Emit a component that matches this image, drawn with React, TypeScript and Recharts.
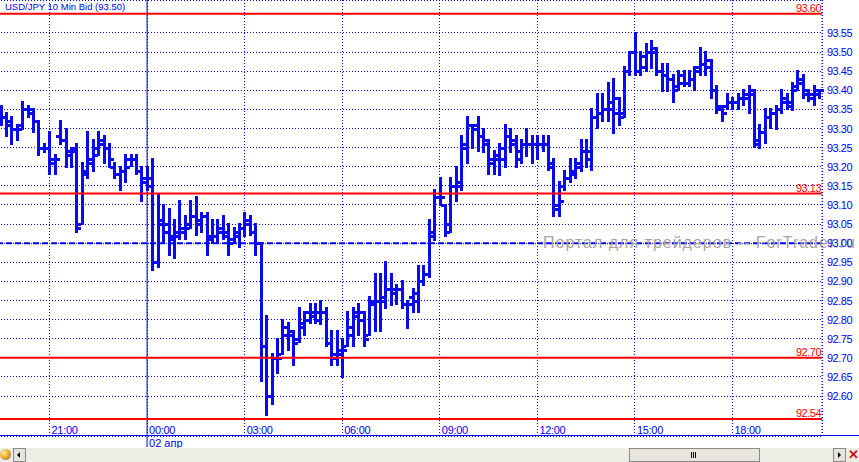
import React from 'react';
import { ComposedChart, Bar, XAxis, YAxis, CartesianGrid, ReferenceLine } from 'recharts';

const opens = [
  93.33, 93.33, 93.31, 93.30, 93.31, 93.35, 93.34, 93.32, 93.25, 93.25,
  93.21, 93.28, 93.27, 93.24, 93.25, 93.05, 93.19, 93.22, 93.25, 93.26,
  93.25, 93.20, 93.18, 93.19, 93.22, 93.22, 93.19, 93.17, 93.17, 92.95,
  93.06, 93.03, 93.01, 93.03, 93.03, 93.05, 93.07, 93.06, 93.07, 93.02,
  93.02, 93.03, 93.02, 93.01, 93.02, 93.04, 93.05, 93.03, 93.00, 92.73,
  92.60, 92.70, 92.71, 92.76, 92.76, 92.75, 92.78, 92.82, 92.82, 92.80,
  92.82, 92.74, 92.71, 92.71, 92.73, 92.78, 92.82, 92.80, 92.76, 92.85,
  92.85, 92.86, 92.88, 92.87, 92.88, 92.84, 92.86, 92.85, 92.90, 92.92,
  93.03, 93.12, 93.10, 93.05, 93.15, 93.16, 93.25, 93.31, 93.31, 93.28,
  93.26, 93.22, 93.22, 93.25, 93.28, 93.26, 93.24, 93.26, 93.26, 93.26,
  93.26, 93.26, 93.20, 93.09, 93.15, 93.17, 93.19, 93.21, 93.24, 93.22,
  93.33, 93.34, 93.35, 93.37, 93.34, 93.34, 93.45, 93.50, 93.45, 93.49,
  93.50, 93.50, 93.45, 93.44, 93.43, 93.41, 93.44, 93.42, 93.43, 93.46,
  93.47, 93.46, 93.40, 93.35, 93.36, 93.37, 93.37, 93.38, 93.39, 93.39,
  93.27, 93.29, 93.33, 93.34, 93.35, 93.37, 93.37, 93.41, 93.43, 93.39,
  93.38, 93.39,
];
const highs = [
  93.36, 93.34, 93.33, 93.31, 93.37, 93.36, 93.35, 93.32, 93.26, 93.29,
  93.23, 93.32, 93.30, 93.25, 93.26, 93.21, 93.29, 93.27, 93.29, 93.28,
  93.26, 93.21, 93.20, 93.23, 93.23, 93.23, 93.20, 93.20, 93.22, 93.13,
  93.10, 93.09, 93.06, 93.11, 93.07, 93.11, 93.12, 93.08, 93.08, 93.06,
  93.06, 93.07, 93.05, 93.04, 93.05, 93.08, 93.07, 93.05, 93.00, 92.81,
  92.71, 92.75, 92.80, 92.79, 92.77, 92.83, 92.82, 92.84, 92.84, 92.85,
  92.83, 92.77, 92.77, 92.75, 92.82, 92.83, 92.84, 92.82, 92.86, 92.92,
  92.92, 92.95, 92.92, 92.89, 92.90, 92.85, 92.88, 92.94, 92.94, 93.06,
  93.14, 93.17, 93.10, 93.17, 93.20, 93.28, 93.33, 93.31, 93.33, 93.30,
  93.27, 93.24, 93.26, 93.31, 93.30, 93.28, 93.27, 93.30, 93.28, 93.28,
  93.28, 93.28, 93.22, 93.16, 93.19, 93.22, 93.22, 93.27, 93.27, 93.35,
  93.39, 93.39, 93.42, 93.43, 93.38, 93.46, 93.50, 93.55, 93.50, 93.52,
  93.53, 93.51, 93.47, 93.47, 93.44, 93.45, 93.45, 93.45, 93.46, 93.51,
  93.50, 93.48, 93.41, 93.36, 93.39, 93.38, 93.39, 93.40, 93.41, 93.40,
  93.31, 93.35, 93.35, 93.36, 93.40, 93.39, 93.42, 93.45, 93.44, 93.40,
  93.41, 93.40,
];
const lows = [
  93.31, 93.28, 93.26, 93.27, 93.30, 93.33, 93.29, 93.23, 93.24, 93.18,
  93.18, 93.26, 93.20, 93.20, 93.03, 93.05, 93.17, 93.19, 93.23, 93.21,
  93.20, 93.17, 93.14, 93.16, 93.20, 93.18, 93.11, 93.14, 92.93, 92.94,
  93.00, 92.97, 92.96, 93.01, 93.01, 93.04, 93.02, 93.03, 92.97, 93.00,
  93.00, 93.01, 92.97, 93.00, 92.99, 93.02, 93.02, 92.97, 92.64, 92.55,
  92.58, 92.66, 92.71, 92.72, 92.68, 92.74, 92.76, 92.79, 92.79, 92.79,
  92.73, 92.68, 92.68, 92.65, 92.73, 92.73, 92.76, 92.73, 92.76, 92.77,
  92.77, 92.83, 92.84, 92.84, 92.83, 92.78, 92.82, 92.82, 92.89, 92.91,
  93.01, 93.10, 93.02, 93.03, 93.11, 93.14, 93.21, 93.25, 93.24, 93.24,
  93.18, 93.18, 93.18, 93.20, 93.24, 93.20, 93.21, 93.23, 93.21, 93.22,
  93.24, 93.19, 93.07, 93.07, 93.14, 93.16, 93.17, 93.19, 93.20, 93.19,
  93.30, 93.32, 93.32, 93.29, 93.31, 93.33, 93.44, 93.44, 93.44, 93.45,
  93.46, 93.44, 93.40, 93.40, 93.37, 93.40, 93.41, 93.41, 93.40, 93.44,
  93.44, 93.38, 93.34, 93.32, 93.35, 93.35, 93.35, 93.36, 93.34, 93.25,
  93.25, 93.26, 93.30, 93.30, 93.34, 93.35, 93.35, 93.40, 93.38, 93.37,
  93.36, 93.38,
];
const closes = [
  93.33, 93.32, 93.30, 93.30, 93.35, 93.35, 93.32, 93.25, 93.25, 93.22,
  93.22, 93.27, 93.23, 93.24, 93.04, 93.18, 93.21, 93.23, 93.27, 93.25,
  93.22, 93.18, 93.19, 93.20, 93.22, 93.19, 93.16, 93.15, 92.95, 93.05,
  93.05, 93.02, 93.02, 93.04, 93.04, 93.07, 93.05, 93.07, 93.01, 93.02,
  93.04, 93.03, 93.00, 93.03, 93.04, 93.06, 93.03, 93.00, 92.73, 92.60,
  92.70, 92.70, 92.78, 92.77, 92.74, 92.79, 92.80, 92.81, 92.82, 92.82,
  92.74, 92.70, 92.72, 92.72, 92.76, 92.81, 92.82, 92.75, 92.84, 92.85,
  92.85, 92.88, 92.88, 92.88, 92.84, 92.84, 92.87, 92.90, 92.92, 93.02,
  93.12, 93.12, 93.03, 93.15, 93.15, 93.26, 93.31, 93.30, 93.28, 93.27,
  93.21, 93.23, 93.22, 93.28, 93.27, 93.22, 93.26, 93.26, 93.26, 93.26,
  93.26, 93.21, 93.10, 93.11, 93.17, 93.18, 93.20, 93.24, 93.24, 93.33,
  93.34, 93.35, 93.35, 93.38, 93.33, 93.45, 93.50, 93.45, 93.46, 93.50,
  93.51, 93.45, 93.44, 93.43, 93.40, 93.42, 93.42, 93.43, 93.45, 93.47,
  93.48, 93.40, 93.36, 93.34, 93.37, 93.37, 93.38, 93.38, 93.40, 93.26,
  93.29, 93.33, 93.34, 93.35, 93.38, 93.36, 93.40, 93.42, 93.40, 93.39,
  93.40, 93.40,
];

const START_MINUTE = 19 * 60 + 30;
const BAR_MINUTES = 10;
const pad = (n: number) => (n < 10 ? '0' + n : '' + n);
const times = opens.map((_, i) => {
  const m = START_MINUTE + i * BAR_MINUTES;
  const day = m >= 1440 ? '02' : '01';
  const mm = m % 1440;
  return `${day} ${pad(Math.floor(mm / 60))}:${pad(mm % 60)}`;
});

const tickTimes = ['01 21:00', '02 00:00', '02 03:00', '02 06:00', '02 09:00', '02 12:00', '02 15:00', '02 18:00'];
const tickLabels = ['21:00', '00:00', '03:00', '06:00', '09:00', '12:00', '15:00', '18:00'];
const dayBreak = '02 00:00';
const dayLabel = '02 апр';

const priceTicks = [92.6, 92.65, 92.7, 92.75, 92.8, 92.85, 92.9, 92.95, 93.0, 93.05, 93.1, 93.15, 93.2, 93.25, 93.3, 93.35, 93.4, 93.45, 93.5, 93.55];
const levelLines = [93.6, 93.13, 92.7, 92.54];
const bidLine = 93.0;
const title = 'USD/JPY 10 Min Bid (93.50)';
const watermark = 'Портал для трейдеров -- ForTrader.ru';

const data = times.map((t, i) => ({ t, o: opens[i], h: highs[i], l: lows[i], c: closes[i] }));

const BLUE = '#0000ff';
const BAR = '#0a0af0';
const RED = '#ff0000';
const FONT = '"Liberation Sans", Arial, sans-serif';

const OhlcShape = (props: any) => {
  const { x, y, width, height, payload } = props;
  if (x == null || y == null || !payload) return null;
  const cx = Math.round(x + width / 2);
  const top = Math.min(y, y + height);
  const h = Math.abs(height);
  const range = payload.h - payload.l;
  const yo = range > 0 ? top + ((payload.h - payload.o) / range) * h : top;
  const yc = range > 0 ? top + ((payload.h - payload.c) / range) * h : top;
  return (
    <g>
      <rect x={cx - 1} y={Math.round(top) - 1} width={3} height={Math.max(3, Math.round(h) + 2)} fill={BAR} />
      <rect x={cx - 4} y={Math.round(yo) - 1} width={3} height={3} fill={BAR} />
      <rect x={cx + 2} y={Math.round(yc) - 1} width={3} height={3} fill={BAR} />
    </g>
  );
};

const TimeTick = (props: any) => {
  const { x, y, payload } = props;
  const idx = tickTimes.indexOf(payload.value);
  const label = idx >= 0 ? tickLabels[idx] : '';
  return (
    <g>
      <text x={x + 2} y={y - 2.5} fill={BLUE} fontSize={11} fontFamily={FONT} letterSpacing={-0.3}>
        {label}
      </text>
      {payload.value === dayBreak && (
        <g>
          <line x1={x} x2={x} y1={y} y2={y + 11} stroke="#0000cc" strokeWidth={1} />
          <text x={x + 2} y={y + 11} fill={BLUE} fontSize={11} fontFamily={FONT}>
            {dayLabel}
          </text>
        </g>
      )}
    </g>
  );
};

const PriceTick = (props: any) => {
  const { x, y, payload } = props;
  return (
    <text x={x} y={y + 4} fill={BLUE} fontSize={11} fontFamily={FONT} letterSpacing={-0.5}>
      {Number(payload.value).toFixed(2)}
    </text>
  );
};

const LevelLabel = (props: any) => {
  const vb = props.viewBox || {};
  return (
    <text x={vb.x + vb.width - 1} y={vb.y - 2} textAnchor="end" fill={RED} fontSize={11} fontFamily={FONT} letterSpacing={-0.5}>
      {props.text}
    </text>
  );
};

const WatermarkLabel = (props: any) => {
  const vb = props.viewBox || {};
  return (
    <text x={vb.x + 545} y={vb.y + 5} fill="#aaa3a3" fontSize={16} fontFamily={FONT} letterSpacing={1}>
      {watermark}
    </text>
  );
};

export default function App() {
  return (
    <div style={{ position: 'absolute', left: 0, top: 0, width: 859, height: 462, overflow: 'hidden', background: '#ffffff' }}>
      <div style={{ position: 'absolute', left: -2, top: 0 }}>
        <ComposedChart width={861} height={462} data={data} margin={{ top: 0, right: 0, bottom: 0, left: 0 }}>
          <CartesianGrid stroke={BLUE} strokeDasharray="1 2" shapeRendering="crispEdges" />
          <XAxis
            dataKey="t"
            type="category"
            ticks={tickTimes}
            interval={0}
            tickLine={false}
            axisLine={false}
            tickSize={0}
            tickMargin={0}
            height={26}
            tick={<TimeTick />}
          />
          <YAxis
            orientation="right"
            type="number"
            domain={[92.4956, 93.6363]}
            allowDataOverflow
            ticks={priceTicks}
            interval={0}
            width={37}
            tickLine={false}
            tickSize={0}
            tickMargin={5}
            axisLine={{ stroke: BLUE, strokeDasharray: '1 2' }}
            tick={<PriceTick />}
          />
          <ReferenceLine x={dayBreak} stroke="#0000cc" strokeWidth={1} />
          {levelLines.map((v) => (
            <ReferenceLine key={v} y={v} stroke={RED} strokeWidth={2} label={<LevelLabel text={v.toFixed(2)} />} />
          ))}
          <ReferenceLine y={bidLine} stroke={BLUE} strokeWidth={2} strokeDasharray="6 3" label={<WatermarkLabel />} />
          <Bar dataKey={(d: any) => [d.l, d.h]} shape={<OhlcShape />} isAnimationActive={false} />
        </ComposedChart>
      </div>
      <div style={{ position: 'absolute', left: 5, top: 1, color: BLUE, fontFamily: FONT, fontSize: 9.5, lineHeight: '11px', whiteSpace: 'nowrap' }}>
        {title}
      </div>
      <div style={{ position: 'absolute', left: 0, top: 435, width: 859, height: 1, background: BLUE }} />
      <div style={{ position: 'absolute', left: 0, top: 448, width: 859, height: 14, background: '#eeede5' }} />
      <div style={{ position: 'absolute', left: 0, top: 449, width: 11, height: 11, borderRadius: 6, background: 'radial-gradient(circle at 35% 35%, #fff2a0, #e8a020 55%, #4070c0 100%)' }} />
      <div style={{ position: 'absolute', left: 13, top: 448, width: 11, height: 12, border: '1px solid #8a8a8a', background: '#e6e4da' }}>
        <div style={{ position: 'absolute', left: 3, top: 3, width: 0, height: 0, borderTop: '3px solid transparent', borderBottom: '3px solid transparent', borderRight: '3px solid #000' }} />
      </div>
      <div style={{ position: 'absolute', left: 629, top: 448, width: 129, height: 12, border: '1px solid #8a8a8a', background: '#e8e6dc' }}>
        <div style={{ position: 'absolute', left: 61, top: 3, width: 1, height: 6, background: '#000' }} />
        <div style={{ position: 'absolute', left: 63, top: 3, width: 1, height: 6, background: '#000' }} />
        <div style={{ position: 'absolute', left: 65, top: 3, width: 1, height: 6, background: '#000' }} />
      </div>
      <div style={{ position: 'absolute', left: 833, top: 448, width: 11, height: 12, border: '1px solid #8a8a8a', background: '#e6e4da' }}>
        <div style={{ position: 'absolute', left: 4, top: 3, width: 0, height: 0, borderTop: '3px solid transparent', borderBottom: '3px solid transparent', borderLeft: '3px solid #000' }} />
      </div>
      <div style={{ position: 'absolute', left: 847, top: 448, width: 12, height: 13, color: '#d01010', fontFamily: FONT, fontSize: 13, fontWeight: 'bold', lineHeight: '13px', textAlign: 'center' }}>
        ✕
      </div>
    </div>
  );
}
